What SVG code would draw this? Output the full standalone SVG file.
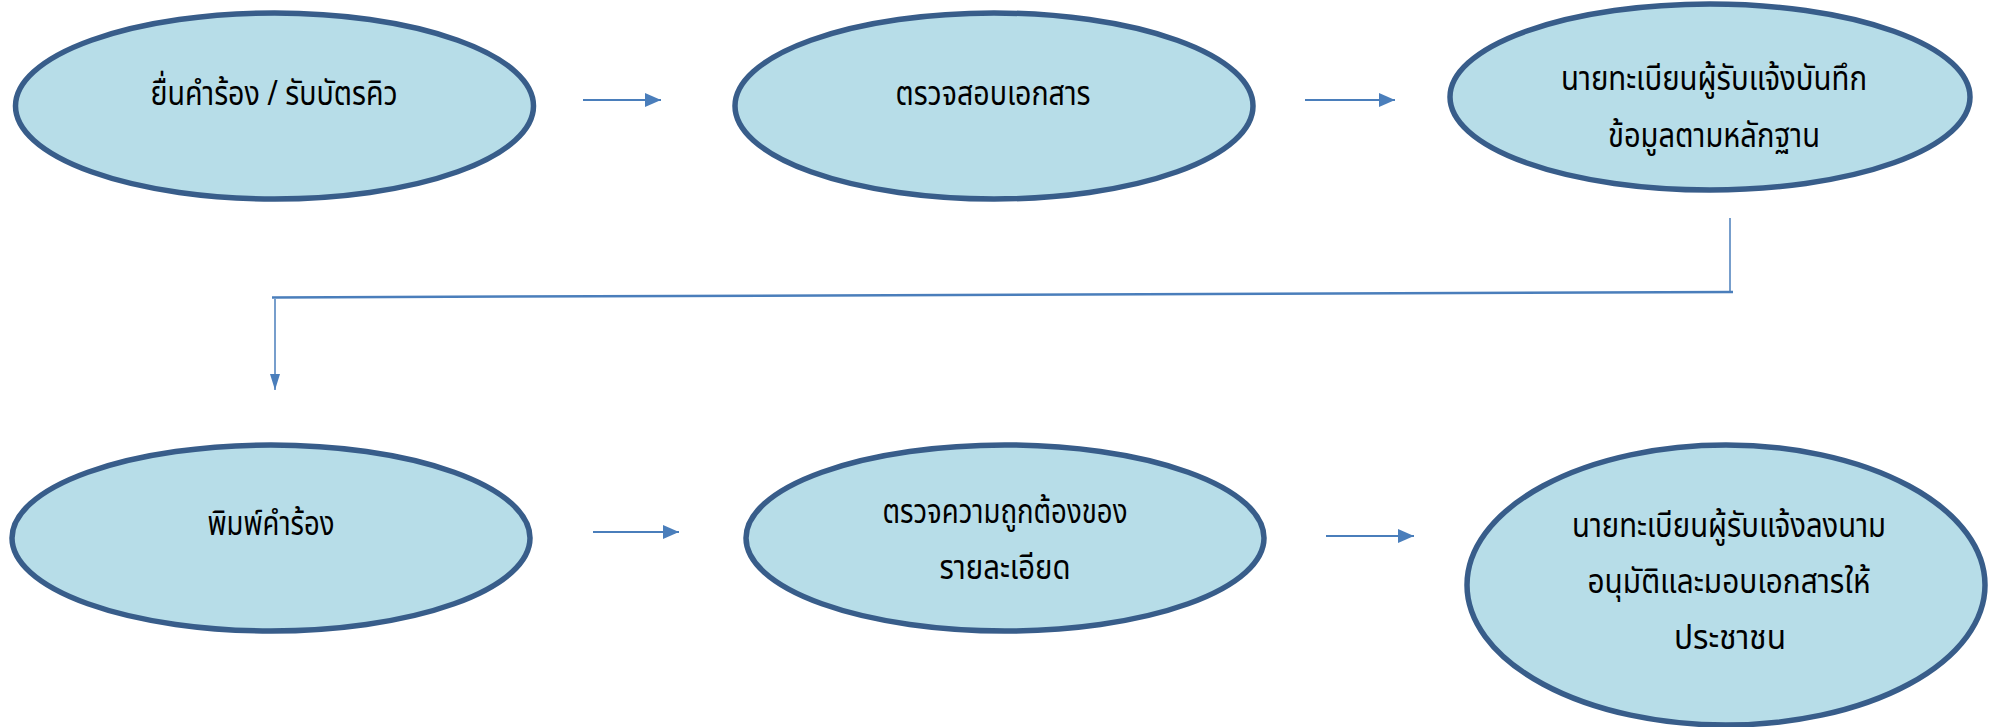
<svg xmlns="http://www.w3.org/2000/svg" width="1993" height="727" viewBox="0 0 1993 727">
<defs>
<style>
.node ellipse{fill:#b7dde8;stroke:#385d8a;stroke-width:5.5}
.node text{font-family:"Noto Sans Thai","Noto Sans","DejaVu Sans",sans-serif;font-size:34px;fill:#000;text-anchor:middle}
.conn line,.conn path{stroke:#4a7ebb;fill:none}
</style>
<marker id="ah" markerUnits="userSpaceOnUse" markerWidth="16" markerHeight="14" refX="16" refY="7" orient="auto">
<path d="M0,0 L16,7 L0,14 Z" fill="#4a7ebb"/>
</marker>
<marker id="ahn" markerUnits="userSpaceOnUse" markerWidth="16" markerHeight="12" refX="16" refY="6" orient="auto">
<path d="M0,1 L16,6 L0,11 Z" fill="#4a7ebb"/>
</marker>
</defs>
<rect width="1993" height="727" fill="#fff"/>
<g id="n1" class="node">
<ellipse cx="274.5" cy="106" rx="259" ry="93"/>
<text x="274" y="105" textLength="247" lengthAdjust="spacingAndGlyphs">ยื่นคำร้อง / รับบัตรคิว</text>
</g>
<g id="n2" class="node">
<ellipse cx="994" cy="106" rx="259" ry="93"/>
<text x="993" y="105" textLength="195" lengthAdjust="spacingAndGlyphs">ตรวจสอบเอกสาร</text>
</g>
<g id="n3" class="node">
<ellipse cx="1710" cy="97" rx="260" ry="93"/>
<text x="1714" y="90" textLength="306" lengthAdjust="spacingAndGlyphs">นายทะเบียนผู้รับแจ้งบันทึก</text>
<text x="1714" y="147" textLength="212" lengthAdjust="spacingAndGlyphs">ข้อมูลตามหลักฐาน</text>
</g>
<g id="n4" class="node">
<ellipse cx="271" cy="538" rx="259" ry="93"/>
<text x="271" y="535" textLength="127" lengthAdjust="spacingAndGlyphs">พิมพ์คำร้อง</text>
</g>
<g id="n5" class="node">
<ellipse cx="1005" cy="538" rx="259" ry="93"/>
<text x="1005" y="523" textLength="245" lengthAdjust="spacingAndGlyphs">ตรวจความถูกต้องของ</text>
<text x="1005" y="579" textLength="131" lengthAdjust="spacingAndGlyphs">รายละเอียด</text>
</g>
<g id="n6" class="node">
<ellipse cx="1726" cy="585" rx="259" ry="140"/>
<text x="1729" y="537" textLength="314" lengthAdjust="spacingAndGlyphs">นายทะเบียนผู้รับแจ้งลงนาม</text>
<text x="1729" y="593" textLength="283" lengthAdjust="spacingAndGlyphs">อนุมัติและมอบเอกสารให้</text>
<text x="1730" y="649" textLength="112" lengthAdjust="spacingAndGlyphs">ประชาชน</text>
</g>
<g id="connectors" class="conn">
<line x1="583" y1="100" x2="661" y2="100" stroke-width="2" marker-end="url(#ah)"/>
<line x1="1305" y1="100" x2="1395" y2="100" stroke-width="2" marker-end="url(#ah)"/>
<line x1="1730" y1="218" x2="1730" y2="292" stroke-width="1.5"/>
<line x1="1733" y1="292" x2="272" y2="297.5" stroke-width="2.5"/>
<line x1="275" y1="299" x2="275" y2="390" stroke-width="1.5" marker-end="url(#ahn)"/>
<line x1="593" y1="532" x2="679" y2="532" stroke-width="2" marker-end="url(#ah)"/>
<line x1="1326" y1="536" x2="1414" y2="536" stroke-width="2" marker-end="url(#ah)"/>
</g>
</svg>
